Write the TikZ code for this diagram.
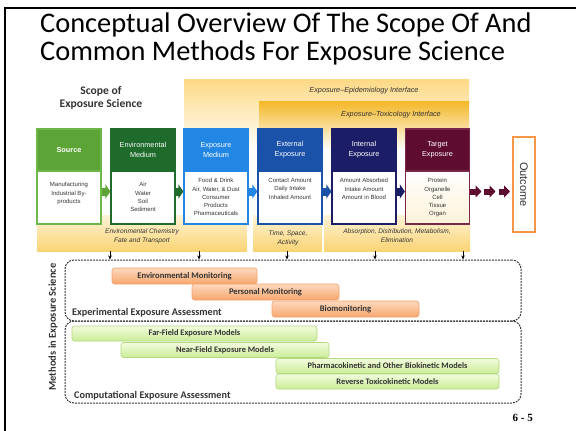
\documentclass[tikz,border=0pt]{standalone}
\usepackage{fontspec}
\setmainfont{Liberation Sans}
\newfontfamily\carl{Carlito}
\newfontfamily\timesb{Liberation Serif}
\usetikzlibrary{arrows.meta,calc}
\definecolor{cSrc}{HTML}{5DA437}
\definecolor{cSrcB}{HTML}{6DB84A}
\definecolor{cEnv}{HTML}{1F6B2B}
\definecolor{cExm}{HTML}{2286E4}
\definecolor{cExt}{HTML}{1A52AA}
\definecolor{cInt}{HTML}{1B1E66}
\definecolor{cTgt}{HTML}{5E0C30}
\definecolor{cTgtB}{HTML}{7A2848}
\definecolor{cOut}{HTML}{F79646}
\definecolor{cEpi}{HTML}{FDD985}
\definecolor{cTox}{HTML}{F4B828}
\definecolor{cBand}{HTML}{FAD473}
\definecolor{cBandT}{HTML}{FFF3D6}
\definecolor{cOrT}{HTML}{FDD9BF}
\definecolor{cOrB}{HTML}{F7A76E}
\definecolor{cOrD}{HTML}{F2A26A}
\definecolor{cGrT}{HTML}{F2FCDD}
\definecolor{cGrB}{HTML}{CBEC98}
\definecolor{cGrD}{HTML}{B2D97E}
\definecolor{cTxt}{HTML}{333333}
\definecolor{cDash}{HTML}{3A3A3A}
\begin{document}
\begin{tikzpicture}[x=1pt,y=-1pt,
  hd/.style={minimum width=64pt, minimum height=42pt, inner sep=0pt, line width=1.2pt, text=white, align=center, font=\fontsize{7.3}{9.8}\selectfont},
  bd/.style={minimum width=64pt, minimum height=53pt, inner sep=0pt, line width=1.2pt, fill=white},
  bt/.style={anchor=north, inner sep=0pt, align=center, text=cTxt, font=\fontsize{6}{8.2}\selectfont},
  blk/.style={line width=8pt, -{Triangle[length=5pt,width=14pt]}},
  blks/.style={line width=6pt, -{Triangle[length=6pt,width=12pt]}},
  ital/.style={inner sep=0pt, align=center, text=cTxt, font=\fontsize{6.6}{9.2}\selectfont\itshape},
  downarr/.style={line width=0.8pt, -{Stealth[length=4pt,width=3.5pt]}},
  dashbox/.style={draw=cDash, line width=1pt, dash pattern=on 2pt off 1pt, rounded corners=9pt, minimum width=456pt, inner sep=0pt},
  orbar/.style={draw=cOrD, line width=0.6pt, top color=cOrT, bottom color=cOrB, rounded corners=2.5pt, inner sep=0pt, minimum height=16pt, text=cTxt, font=\carl\fontsize{8.6}{10}\selectfont\bfseries},
  grbar/.style={draw=cGrD, line width=0.6pt, top color=cGrT, bottom color=cGrB, rounded corners=2.5pt, inner sep=0pt, minimum height=15pt, text=cTxt, font=\carl\fontsize{8.4}{10}\selectfont\bfseries},
  band/.style={inner sep=0pt, minimum height=36pt, top color=cBandT, bottom color=cBand, anchor=north west},
  lbl/.style={inner sep=0pt, anchor=base west, text=cTxt, font=\carl\fontsize{10.2}{12}\selectfont\bfseries}
]
\useasboundingbox (0,0) rectangle (576,431);
\fill[white] (0,0) rectangle (576,431);
% frame
\draw[line width=2.5pt] (5,431) -- (5,8) -- (576,8);
% title
\node[anchor=north west, inner sep=0pt, align=left, font=\carl\fontsize{28.4}{28}\selectfont] (title) at (40,13) {Conceptual Overview Of The Scope Of And\\Common Methods For Exposure Science};
% scope label
\node[inner sep=0pt, align=center, text=cTxt, font=\carl\fontsize{11.6}{13}\selectfont\bfseries] (scope) at (101,98) {Scope of\\Exposure Science};
% interface backgrounds
\node[inner sep=0pt, minimum width=285pt, minimum height=71pt, top color=cEpi, bottom color=white, anchor=north west] (epi) at (184,79) {};
\node[inner sep=0pt, minimum width=210pt, minimum height=49pt, top color=cTox, bottom color=white, anchor=north west] (tox) at (259,101) {};
\node[ital, font=\fontsize{7.3}{9}\selectfont\itshape] (epit) at (364,91) {Exposure--Epidemiology Interface};
\node[ital, font=\fontsize{7.3}{9}\selectfont\itshape] (toxt) at (391,115) {Exposure--Toxicology Interface};
% lower bands
\node[band, minimum width=210pt] (band1) at (37,215) {};
\node[band, minimum width=69pt] (band2) at (253,215) {};
\node[band, minimum width=146pt] (band3) at (324,215) {};
\node[ital] (bt1) at (142,236) {Environmental Chemistry\\Fate and Transport};
\node[ital] (bt2) at (288,238.5) {Time, Space,\\Activity};
\node[ital] (bt3) at (397,236) {Absorption, Distribution, Metabolism,\\Elimination};
% boxes
\node[hd, fill=cSrc, draw=cSrcB, font=\fontsize{7.3}{9.8}\selectfont\bfseries] (h1) at (69,150) {Source};
\node[bd, draw=cSrcB] (b1) at (69,197.5) {};
\node[bt] (t1) at ([yshift=-12pt]b1.north) {Manufacturing\\Industrial By-\\products};
\node[hd, fill=cEnv, draw=cEnv] (h2) at (143,150) {Environmental\\Medium};
\node[bd, draw=cEnv] (b2) at (143,197.5) {};
\node[bt] (t2) at ([yshift=-12pt]b2.north) {Air\\Water\\Soil\\Sediment};
\node[hd, fill=cExm, draw=cExm] (h3) at (216,150) {Exposure\\Medium};
\node[bd, draw=cExm] (b3) at (216,197.5) {};
\node[bt] (t3) at ([yshift=-8pt]b3.north) {Food \& Drink\\Air, Water, \& Dust\\Consumer\\Products\\Pharmaceuticals};
\node[hd, fill=cExt, draw=cExt] (h4) at (290,150) {External\\Exposure};
\node[bd, draw=cExt] (b4) at (290,197.5) {};
\node[bt] (t4) at ([yshift=-8pt]b4.north) {Contact Amount\\Daily Intake\\Inhaled Amount};
\node[hd, fill=cInt, draw=cInt] (h5) at (364,150) {Internal\\Exposure};
\node[bd, draw=cInt] (b5) at (364,197.5) {};
\node[bt] (t5) at ([yshift=-8pt]b5.north) {Amount Absorbed\\Intake Amount\\Amount in Blood};
\node[hd, fill=cTgt, draw=cTgtB] (h6) at (437.5,150) {Target\\Exposure};
\node[bd, draw=cTgtB, top color=white, bottom color=cTox!18] (b6) at (437.5,197.5) {};
\node[bt] (t6) at ([yshift=-8pt]b6.north) {Protein\\Organelle\\Cell\\Tissue\\Organ};
% block arrows
\draw[blk, cSrc] ([yshift=6pt]b1.east) -- ([yshift=6pt]b2.west);
\draw[blk, cEnv] ([yshift=6pt]b2.east) -- ([yshift=6pt]b3.west);
\draw[blk, cExm] ([yshift=6pt]b3.east) -- ([yshift=6pt]b4.west);
\draw[blk, cExt] ([yshift=6pt]b4.east) -- ([yshift=6pt]b5.west);
\draw[blk, cInt] ([yshift=6pt]b5.east) -- ([yshift=6pt]b6.west);
% outcome
\node[draw=cOut, line width=1.5pt, fill=white, rotate=-90, minimum width=95pt, minimum height=22pt, inner sep=0pt, text=cTxt, font=\fontsize{11}{13}\selectfont] (out) at (524,184.5) {Outcome};
\coordinate (m1a) at (470,191.5); \coordinate (m1b) at (481.5,191.5);
\coordinate (m2a) at (484,191.5); \coordinate (m2b) at (495.5,191.5);
\coordinate (m3a) at (498.5,191.5); \coordinate (m3b) at (510,191.5);
\draw[blks, cTgt] (m1a) -- (m1b);
\draw[blks, cTgt] (m2a) -- (m2b);
\draw[blks, cTgt] (m3a) -- (m3b);
% methods boxes
\node[dashbox, minimum height=61pt] (exp) at (293,290.5) {};
\node[dashbox, minimum height=82pt] (comp) at (293,362) {};
\node[inner sep=0pt, rotate=90, text=cTxt, font=\carl\fontsize{10.5}{12}\selectfont\bfseries] (meth) at (53,327) {Methods in Exposure Science};
% down arrows
\path (110,0) coordinate (d1) (199,0) coordinate (d2) (287,0) coordinate (d3) (375,0) coordinate (d4) (463,0) coordinate (d5);
\draw[downarr] (d1 |- band1.south) -- (d1 |- exp.north);
\draw[downarr] (d2 |- band1.south) -- (d2 |- exp.north);
\draw[downarr] (d3 |- band2.south) -- (d3 |- exp.north);
\draw[downarr] (d4 |- band3.south) -- (d4 |- exp.north);
\draw[downarr] (d5 |- band3.south) -- (d5 |- exp.north);
% experimental bars
\node[orbar, minimum width=145pt] (em) at (184.5,276) {Environmental Monitoring};
\node[orbar, minimum width=147pt] (pm) at (265.5,292) {Personal Monitoring};
\node[orbar, minimum width=147pt] (bm) at (345.5,309) {Biomonitoring};
\node[lbl] (expl) at (72,315) {Experimental Exposure Assessment};
% computational bars
\node[grbar, minimum width=245pt] (ff) at (194.5,333.5) {Far-Field Exposure Models};
\node[grbar, minimum width=208pt] (nf) at (225,350) {Near-Field Exposure Models};
\node[grbar, minimum width=223pt] (pk) at (387.5,366) {Pharmacokinetic and Other Biokinetic Models};
\node[grbar, minimum width=223pt] (rt) at (387.5,381.5) {Reverse Toxicokinetic Models};
\node[lbl] (compl) at (74,398) {Computational Exposure Assessment};
% page number
\node[inner sep=0pt, anchor=base east, font=\timesb\fontsize{11}{13}\selectfont\bfseries] (pg) at (533,421) {6 - 5};
\end{tikzpicture}
\end{document}
